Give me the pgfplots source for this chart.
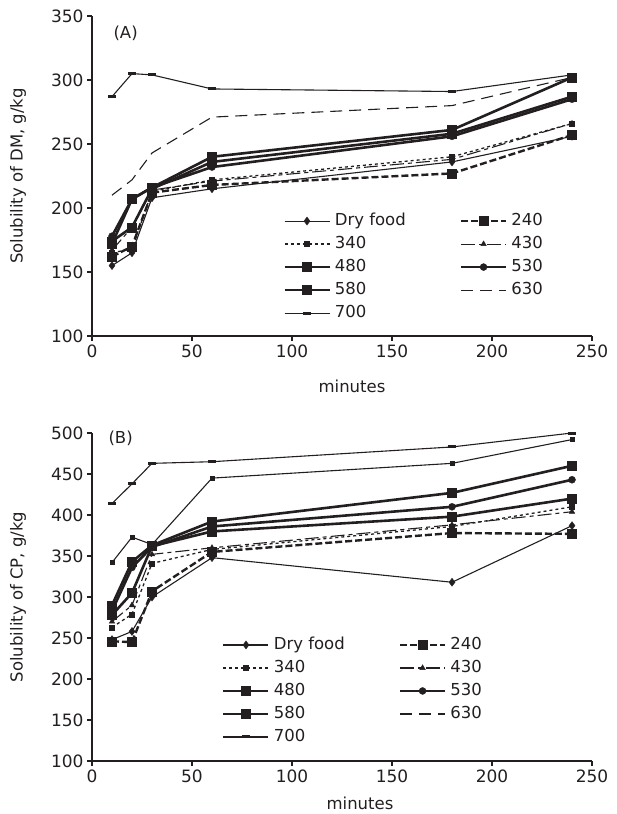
\documentclass[border=0pt]{standalone}
\usepackage{fontspec}
\setmainfont{DejaVu Sans}
\usepackage{pgfplots}
\usepackage{pgfplotstable}
\pgfplotsset{compat=1.18}

\definecolor{ink}{RGB}{35,31,32}

% solubility of DM (panel A), g/kg
\pgfplotstableread{
t   dry  s240 s340 s430 s480 s530 s580 s630 s700
10  155  162  165  167  172  178  174  210  287
20  165  170  168  185  207  207  185  222  305
30  208  212  213  214  216  216  215  243  304
60  215  218  222  221  240  232  236  271  293
180 236  227  240  238  261  256  258  280  291
240 256  257  266  266  302  285  287  302  304
}\dmdata

% solubility of CP (panel B), g/kg
\pgfplotstableread{
t   dry  s240 s340 s430 s480 s530 s580 s630 s700
10  248  246  263  270  290  283  278  342  414
20  258  245  279  290  343  336  305  373  438
30  300  307  341  352  363  361  362  364  463
60  348  355  358  360  392  386  380  445  465
180 318  378  386  388  427  410  398  463  483
240 387  377  410  404  460  443  420  492  500
}\cpdata

\pgfplotsset{
  panel/.style={
    scale only axis, width=500pt, clip=false,
    xmin=0, xmax=250, xtick={0,50,...,250},
    axis x line*=bottom, axis y line*=left,
    axis line style={-, line width=1.4pt, ink},
    tick align=outside, major tick length=5pt,
    tick style={line width=1.2pt, ink},
    every tick label/.append style={font=\fontsize{17}{20}\selectfont, text=ink},
    /pgf/number format/assume math mode=true,
    label style={font=\fontsize{16.5}{19}\selectfont, text=ink},
    xlabel=minutes,
    ylabel style={at={(axis description cs:-0.148,0.5)}, anchor=center},
    legend columns=2,
    legend cell align=left,
    legend style={draw=none, fill=none, anchor=north west, inner sep=0pt,
      row sep=7.5pt, font=\fontsize{16.5}{19}\selectfont, text=ink,
      nodes={inner xsep=4pt, inner ysep=0pt, text height=12pt, text depth=3.5pt},
      /tikz/every even column/.append style={column sep=50pt}},
    legend image code/.code={\draw[mark repeat=2,mark phase=2,##1]
      plot coordinates {(0pt,0pt)(22.5pt,0pt)(45pt,0pt)};},
  },
  sdry/.style={ink, line width=1.1pt, mark=diamond*, mark size=4pt, mark options={solid, line width=0.4pt}},
  s240/.style={ink, line width=2.4pt, dash pattern=on 7pt off 3pt, mark=square*, mark size=4.5pt, mark options={solid, line width=0.4pt}},
  s340/.style={ink, line width=1.3pt, dash pattern=on 3pt off 3pt, mark=square*, mark size=2.5pt, mark options={solid, line width=0.4pt}},
  s430/.style={ink, line width=1.1pt, dash pattern=on 14pt off 4pt on 4pt off 4pt, mark=triangle*, mark size=3.2pt, mark options={solid, line width=0.4pt}},
  s480/.style={ink, line width=2.6pt, mark=square*, mark size=4.5pt, mark options={solid, line width=0.4pt}},
  s530/.style={ink, line width=2.6pt, mark=*, mark size=3.5pt, mark options={solid, line width=0.4pt}},
  s580/.style={ink, line width=2.6pt, mark=square*, mark size=4.5pt, mark options={solid, line width=0.4pt}},
  s630/.style={ink, line width=1.1pt, dash pattern=on 12pt off 7pt},
  s700/.style={ink, line width=1.1pt, mark=-, mark size=4pt, mark options={solid, line width=3pt}},
}

\begin{document}
\begin{tikzpicture}
\useasboundingbox (0,0) rectangle (616pt,-814pt);

% (A)
\begin{axis}[panel, height=320pt, at={(92pt,-336pt)}, anchor=south west,
  ymin=100, ymax=350, ytick={100,150,...,350},
  ylabel={Solubility of DM, g/kg},
  xlabel style={at={(axis description cs:0.52,0)}, anchor=center, yshift=-50pt},
  legend style={at={(axis description cs:0.382,0.384)}}]
\addplot[sdry] table[x=t, y=dry] {\dmdata};
\addlegendentry{Dry food}
\addplot[s240] table[x=t, y=s240] {\dmdata};
\addlegendentry{240}
\addplot[s340] table[x=t, y=s340] {\dmdata};
\addlegendentry{340}
\addplot[s430] table[x=t, y=s430] {\dmdata};
\addlegendentry{430}
\addplot[s480] table[x=t, y=s480] {\dmdata};
\addlegendentry{480}
\addplot[s530] table[x=t, y=s530] {\dmdata};
\addlegendentry{530}
\addplot[s580] table[x=t, y=s580] {\dmdata};
\addlegendentry{580}
\addplot[s630] table[x=t, y=s630] {\dmdata};
\addlegendentry{630}
\addplot[s700] table[x=t, y=s700] {\dmdata};
\addlegendentry{700}
\node[anchor=west, font=\fontsize{16.5}{19}\selectfont, text=ink] at (axis description cs:0.036,0.947) {(A)};
\end{axis}

% (B)
\begin{axis}[panel, height=328pt, at={(92pt,-761pt)}, anchor=south west,
  ymin=100, ymax=500, ytick={100,150,...,500},
  ylabel={Solubility of CP, g/kg},
  xlabel style={at={(axis description cs:0.536,0)}, anchor=center, yshift=-42pt},
  legend style={at={(axis description cs:0.26,0.378)}}]
\addplot[sdry] table[x=t, y=dry] {\cpdata};
\addlegendentry{Dry food}
\addplot[s240] table[x=t, y=s240] {\cpdata};
\addlegendentry{240}
\addplot[s340] table[x=t, y=s340] {\cpdata};
\addlegendentry{340}
\addplot[s430] table[x=t, y=s430] {\cpdata};
\addlegendentry{430}
\addplot[s480] table[x=t, y=s480] {\cpdata};
\addlegendentry{480}
\addplot[s530] table[x=t, y=s530] {\cpdata};
\addlegendentry{530}
\addplot[s580] table[x=t, y=s580] {\cpdata};
\addlegendentry{580}
\addplot[ink, line width=1.1pt, mark=square*, mark size=2pt, mark options={solid, line width=0.4pt},
  legend image post style={dash pattern=on 12pt off 7pt, mark=none}] table[x=t, y=s630] {\cpdata};
\addlegendentry{630}
\addplot[s700] table[x=t, y=s700] {\cpdata};
\addlegendentry{700}
\node[anchor=west, font=\fontsize{16.5}{19}\selectfont, text=ink] at (axis description cs:0.026,0.985) {(B)};
\end{axis}
\end{tikzpicture}
\end{document}
